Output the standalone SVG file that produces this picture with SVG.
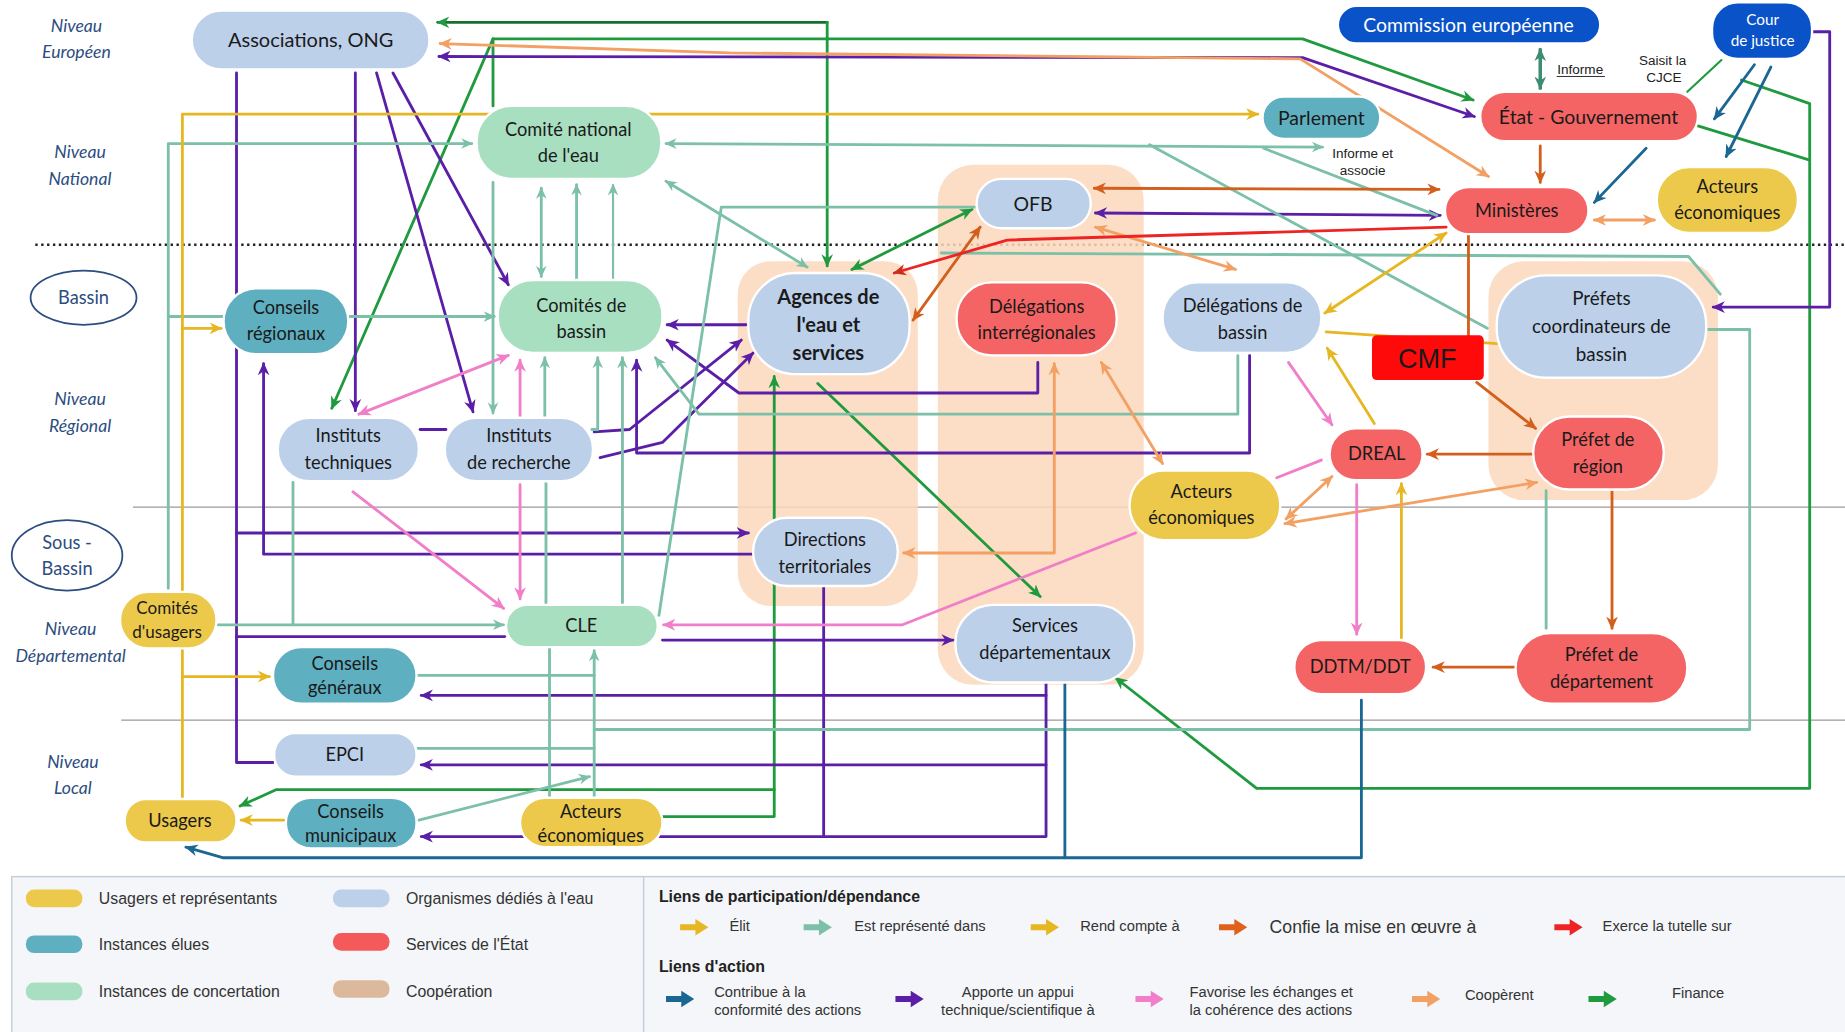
<svg xmlns="http://www.w3.org/2000/svg" width="1845" height="1032" viewBox="0 0 1845 1032">
<style>
.bg{fill:#ffffff}
.c{fill:none;stroke-width:2.4;stroke-linejoin:round;stroke-linecap:round}
.thin{stroke-width:1.8}
.pur{stroke:#5a1fa6}.grn{stroke:#1f9a3e}.dgr{stroke:#14702c}.tea{stroke:#7cc0a8}.yel{stroke:#e6b722}.ora{stroke:#f2a063}.dor{stroke:#d35f1d}.red{stroke:#ee2424}.blu{stroke:#1b6794}.pnk{stroke:#f07ec8}.cte{stroke:#3d8c74}
.n rect{stroke:#ffffff;stroke-width:2}
.lb{fill:#bcd0ea}.lg{fill:#a9dfc1}.lt{fill:#5eafc0}.ly{fill:#ecc94b}.lr{fill:#f46464}.ld{fill:#0a52c8}
.coop{fill:#fcd8bc;opacity:0.85}
text{font-family:Lato,"Open Sans","Noto Sans",sans-serif;fill:#1a1a1a;text-anchor:middle}
.t{font-size:15.5px}
.tb{font-size:17px;font-weight:bold}
.tw{fill:#ffffff}
.lvl{font-family:Lato,"Open Sans",sans-serif;font-style:italic;font-size:15px;fill:#2d4d80}
.sm{font-family:"Liberation Sans",Arial,sans-serif;font-size:11.5px;fill:#222}
.lg1{font-family:"Liberation Sans",Arial,sans-serif;font-size:13.5px;fill:#333;text-anchor:start}
.lgb{font-family:"Liberation Sans",Arial,sans-serif;font-size:13.5px;font-weight:bold;fill:#222;text-anchor:start}
.lgs{font-family:"Liberation Sans",Arial,sans-serif;font-size:12.5px;fill:#333;text-anchor:start}
.lgc{font-family:"Liberation Sans",Arial,sans-serif;font-size:12.5px;fill:#333;text-anchor:middle}
</style>
<defs>
<marker id="a-pur" viewBox="0 0 10 10" refX="9" refY="5" markerWidth="11" markerHeight="11" markerUnits="userSpaceOnUse" orient="auto-start-reverse"><path d="M0,0.5 L10,5 L0,9.5 L3,5 z" fill="#5a1fa6"/></marker>
<marker id="a-grn" viewBox="0 0 10 10" refX="9" refY="5" markerWidth="11" markerHeight="11" markerUnits="userSpaceOnUse" orient="auto-start-reverse"><path d="M0,0.5 L10,5 L0,9.5 L3,5 z" fill="#1f9a3e"/></marker>
<marker id="a-tea" viewBox="0 0 10 10" refX="9" refY="5" markerWidth="10" markerHeight="10" markerUnits="userSpaceOnUse" orient="auto-start-reverse"><path d="M0,0.5 L10,5 L0,9.5 L3,5 z" fill="#7cc0a8"/></marker>
<marker id="a-yel" viewBox="0 0 10 10" refX="9" refY="5" markerWidth="11" markerHeight="11" markerUnits="userSpaceOnUse" orient="auto-start-reverse"><path d="M0,0.5 L10,5 L0,9.5 L3,5 z" fill="#e6b722"/></marker>
<marker id="a-ora" viewBox="0 0 10 10" refX="9" refY="5" markerWidth="11" markerHeight="11" markerUnits="userSpaceOnUse" orient="auto-start-reverse"><path d="M0,0.5 L10,5 L0,9.5 L3,5 z" fill="#f2a063"/></marker>
<marker id="a-dor" viewBox="0 0 10 10" refX="9" refY="5" markerWidth="11" markerHeight="11" markerUnits="userSpaceOnUse" orient="auto-start-reverse"><path d="M0,0.5 L10,5 L0,9.5 L3,5 z" fill="#d35f1d"/></marker>
<marker id="a-red" viewBox="0 0 10 10" refX="9" refY="5" markerWidth="11" markerHeight="11" markerUnits="userSpaceOnUse" orient="auto-start-reverse"><path d="M0,0.5 L10,5 L0,9.5 L3,5 z" fill="#c8301c"/></marker>
<marker id="a-blu" viewBox="0 0 10 10" refX="9" refY="5" markerWidth="11" markerHeight="11" markerUnits="userSpaceOnUse" orient="auto-start-reverse"><path d="M0,0.5 L10,5 L0,9.5 L3,5 z" fill="#1b6794"/></marker>
<marker id="a-pnk" viewBox="0 0 10 10" refX="9" refY="5" markerWidth="11" markerHeight="11" markerUnits="userSpaceOnUse" orient="auto-start-reverse"><path d="M0,0.5 L10,5 L0,9.5 L3,5 z" fill="#f07ec8"/></marker>
<marker id="a-cte" viewBox="0 0 10 10" refX="9" refY="5" markerWidth="11" markerHeight="11" markerUnits="userSpaceOnUse" orient="auto-start-reverse"><path d="M0,0.5 L10,5 L0,9.5 L3,5 z" fill="#3d8c74"/></marker>
<path id="la" d="M0,-2.5 H13 V-7 L24,0 L13,7 V2.5 H0 z"/>
</defs>
<rect class="bg" x="0" y="0" width="1845" height="1032"/>
<g transform="scale(1.176658)">

<g id="levels">
<text class="lvl" x="65" y="27">Niveau</text>
<text class="lvl" x="65" y="49">Européen</text>
<text class="lvl" x="68" y="134">Niveau</text>
<text class="lvl" x="68" y="157">National</text>
<ellipse cx="71" cy="253" rx="45" ry="23" fill="none" stroke="#2d4d80" stroke-width="1.5"/>
<text class="t" x="71" y="258" style="fill:#2d4d80">Bassin</text>
<text class="lvl" x="68" y="344">Niveau</text>
<text class="lvl" x="68" y="367">Régional</text>
<ellipse cx="57" cy="472" rx="47" ry="30" fill="none" stroke="#2d4d80" stroke-width="1.5"/>
<text class="t" x="57" y="467" style="fill:#2d4d80">Sous -</text>
<text class="t" x="57" y="489" style="fill:#2d4d80">Bassin</text>
<text class="lvl" x="60" y="540">Niveau</text>
<text class="lvl" x="60" y="563">Départemental</text>
<text class="lvl" x="62" y="653">Niveau</text>
<text class="lvl" x="62" y="675">Local</text>
<line x1="30" y1="208" x2="1568" y2="208" stroke="#222" stroke-width="2" stroke-dasharray="2 3"/>
<line x1="113" y1="431" x2="1568" y2="431" stroke="#9a9a9a" stroke-width="1.2"/>
<line x1="103" y1="612" x2="1568" y2="612" stroke="#9a9a9a" stroke-width="1.2"/>
</g>

<g id="cooperation">
<rect class="coop" x="627" y="222" width="153" height="293" rx="28"/>
<rect class="coop" x="797" y="140" width="175" height="442" rx="30"/>
<rect class="coop" x="1265" y="222" width="195" height="203" rx="30"/>
</g>

<g id="connectors">
<!-- green -->
<path class="c dgr" d="M703 19 L372 19" marker-end="url(#a-grn)"/>
<path class="c grn" d="M703 19 L703 226" marker-end="url(#a-grn)"/>
<path class="c grn" d="M419 90 L419 33 L1107 33 L1252 85" marker-end="url(#a-grn)"/>
<path class="c grn" d="M419 33 L282 347" marker-end="url(#a-grn)"/>
<path class="c grn" d="M826 178 L724 229" marker-start="url(#a-grn)" marker-end="url(#a-grn)"/>
<path class="c grn" d="M695 326 L884 507" marker-end="url(#a-grn)"/>
<path class="c grn" d="M563 694 L658 694 L658 320" marker-end="url(#a-grn)"/>
<path class="c grn" d="M658 671 L235 671 L204 685" marker-end="url(#a-grn)"/>
<path class="c grn" d="M1443 107 L1538 136"/>
<path class="c grn" d="M1480 68 L1538 88 L1538 670 L1068 670 L948 576" marker-end="url(#a-grn)"/>
<path class="c grn thin" d="M1463 51 L1434 78"/>
<!-- purple -->
<path class="c pur" d="M373 48 L1107 49 L1253 99" marker-start="url(#a-pur)" marker-end="url(#a-pur)"/>
<path class="c pur" d="M201 62 L201 648 L232 648"/>
<path class="c pur" d="M201 453 L636 453" marker-end="url(#a-pur)"/>
<path class="c pur" d="M201 541 L429 541"/>
<path class="c pur" d="M640 471 L224 471 L224 309" marker-end="url(#a-pur)"/>
<path class="c pur" d="M302 62 L302 349" marker-end="url(#a-pur)"/>
<path class="c pur" d="M320 62 L402 350" marker-end="url(#a-pur)"/>
<path class="c pur" d="M334 62 L432 242" marker-end="url(#a-pur)"/>
<path class="c pur" d="M505 367 L535 365 L630 289" marker-end="url(#a-pur)"/>
<path class="c pur" d="M510 389 L563 376 L640 300" marker-end="url(#a-pur)"/>
<path class="c pur" d="M634 276 L567 276" marker-end="url(#a-pur)"/>
<path class="c pur" d="M882 308 L882 334 L628 334 L567 289" marker-end="url(#a-pur)"/>
<path class="c pur" d="M1062 302 L1062 385 L541 385 L541 306" marker-end="url(#a-pur)"/>
<path class="c pur" d="M931 181 L1224 183" marker-start="url(#a-pur)" marker-end="url(#a-pur)"/>
<path class="c pur" d="M1540 27 L1555 27 L1555 261 L1456 261" marker-end="url(#a-pur)"/>
<path class="c pur" d="M563 544 L810 544" marker-end="url(#a-pur)"/>
<path class="c pur" d="M889 580 L889 711 L358 711" marker-end="url(#a-pur)"/>
<path class="c pur" d="M889 591 L358 591" marker-end="url(#a-pur)"/>
<path class="c pur" d="M889 650 L358 650" marker-end="url(#a-pur)"/>
<path class="c pur" d="M700 498 L700 711"/>
<path class="c pur" d="M357 365 L379 365"/>
<!-- teal -->
<path class="c tea" d="M143 500 L143 122 L401 122" marker-end="url(#a-tea)"/>
<path class="c tea" d="M143 269 L190 269"/>
<path class="c tea" d="M297 269 L420 269" marker-end="url(#a-tea)"/>
<path class="c tea" d="M185 531 L428 531" marker-end="url(#a-tea)"/>
<path class="c tea" d="M249 410 L249 531"/>
<path class="c tea" d="M460 160 L460 235" marker-start="url(#a-tea)" marker-end="url(#a-tea)"/>
<path class="c tea" d="M490 237 L490 157" marker-end="url(#a-tea)"/>
<path class="c tea thin" d="M521 237 L521 157" marker-end="url(#a-tea)"/>
<path class="c tea" d="M419 155 L419 351" marker-end="url(#a-tea)"/>
<path class="c tea" d="M463 355 L463 304" marker-end="url(#a-tea)"/>
<path class="c tea" d="M503 365 L508 365 L508 304" marker-end="url(#a-tea)"/>
<path class="c tea" d="M529 514 L529 304" marker-end="url(#a-tea)"/>
<path class="c tea" d="M1052 302 L1052 352 L594 352 L557 304" marker-end="url(#a-tea)"/>
<path class="c tea" d="M566 154 L686 227" marker-start="url(#a-tea)" marker-end="url(#a-tea)"/>
<path class="c tea" d="M566 122 L1124 125" marker-start="url(#a-tea)" marker-end="url(#a-tea)"/>
<path class="c tea" d="M977 123 L1264 279"/>
<path class="c tea" d="M1074 126 L1221 183"/>
<path class="c tea" d="M560 523 L613 176 L828 176"/>
<path class="c tea" d="M800 215 L1435 218 L1462 250"/>
<path class="c tea" d="M1452 280 L1487 280 L1487 620 L505 620"/>
<path class="c tea" d="M505 680 L505 553" marker-end="url(#a-tea)"/>
<path class="c tea" d="M467 678 L467 551"/>
<path class="c tea" d="M355 574 L505 574"/>
<path class="c tea" d="M355 636 L505 636"/>
<path class="c tea" d="M356 697 L501 660" marker-end="url(#a-tea)"/>
<path class="c tea" d="M1314 417 L1314 534"/>
<path class="c tea" d="M464 410 L464 514"/>
<!-- yellow -->
<path class="c yel" d="M155 503 L155 97 L1069 97" marker-end="url(#a-yel)"/>
<path class="c yel" d="M155 279 L188 279" marker-end="url(#a-yel)"/>
<path class="c yel" d="M155 678 L155 551"/>
<path class="c yel" d="M155 575 L229 575" marker-end="url(#a-yel)"/>
<path class="c yel" d="M241 697 L205 697" marker-end="url(#a-yel)"/>
<path class="c yel" d="M1229 198 L1126 266" marker-start="url(#a-yel)" marker-end="url(#a-yel)"/>
<path class="c yel" d="M1127 282 L1272 292"/>
<path class="c yel" d="M1168 360 L1128 296" marker-end="url(#a-yel)"/>
<path class="c yel" d="M1191 542 L1191 411" marker-end="url(#a-yel)"/>
<!-- orange (cooperate) -->
<path class="c ora" d="M374 37 L620 45 L1105 50 L1265 150" marker-start="url(#a-ora)" marker-end="url(#a-ora)"/>
<path class="c dor" d="M776 272 L833 193" marker-start="url(#a-dor)" marker-end="url(#a-dor)"/>
<path class="c ora" d="M931 193 L1050 229" marker-start="url(#a-ora)" marker-end="url(#a-ora)"/>
<path class="c ora" d="M936 308 L988 394" marker-start="url(#a-ora)" marker-end="url(#a-ora)"/>
<path class="c ora" d="M896 309 L896 470 L768 470" marker-start="url(#a-ora)" marker-end="url(#a-ora)"/>
<path class="c ora" d="M1355 187 L1406 187" marker-start="url(#a-ora)" marker-end="url(#a-ora)"/>
<path class="c ora" d="M1093 441 L1132 405" marker-start="url(#a-ora)" marker-end="url(#a-ora)"/>
<path class="c ora" d="M1092 445 L1306 410" marker-start="url(#a-ora)" marker-end="url(#a-ora)"/>
<!-- dark orange (confie) -->
<path class="c dor" d="M930 160 L1223 161" marker-start="url(#a-dor)" marker-end="url(#a-dor)"/>
<path class="c dor" d="M1309 124 L1309 155" marker-end="url(#a-dor)"/>
<path class="c dor" d="M1248 200 L1248 285"/>
<path class="c dor" d="M1255 325 L1305 364" marker-end="url(#a-dor)"/>
<path class="c dor" d="M1302 386 L1213 386" marker-end="url(#a-dor)"/>
<path class="c dor" d="M1370 418 L1370 534" marker-end="url(#a-dor)"/>
<path class="c dor" d="M1287 567 L1218 567" marker-end="url(#a-dor)"/>
<!-- red (tutelle) -->
<path class="c red" d="M1229 193 L856 204 L760 232" marker-end="url(#a-red)"/>
<!-- blue (contribue) -->
<path class="c blu" d="M1157 595 L1157 729 L190 729 L158 720" marker-end="url(#a-blu)"/>
<path class="c blu" d="M905 580 L905 729"/>
<path class="c blu" d="M1491 55 L1457 101" marker-end="url(#a-blu)"/>
<path class="c blu" d="M1505 57 L1467 133" marker-end="url(#a-blu)"/>
<path class="c blu" d="M1399 126 L1355 172" marker-end="url(#a-blu)"/>
<!-- pink -->
<path class="c pnk" d="M305 352 L432 302" marker-start="url(#a-pnk)" marker-end="url(#a-pnk)"/>
<path class="c pnk" d="M442 354 L442 306" marker-end="url(#a-pnk)"/>
<path class="c pnk" d="M300 418 L428 517" marker-end="url(#a-pnk)"/>
<path class="c pnk" d="M442 412 L442 509" marker-end="url(#a-pnk)"/>
<path class="c pnk" d="M965 453 L767 531 L564 531" marker-end="url(#a-pnk)"/>
<path class="c pnk" d="M1095 308 L1132 361" marker-end="url(#a-pnk)"/>
<path class="c pnk" d="M1153 412 L1153 539" marker-end="url(#a-pnk)"/>
<path class="c pnk" d="M1085 406 L1123 391"/>
<!-- commission -->
<path class="c cte" style="stroke-width:3" d="M1309 42 L1309 75" marker-start="url(#a-cte)" marker-end="url(#a-cte)"/>
<text class="sm" x="1343" y="63">Informe</text>
<line x1="1323" y1="65" x2="1364" y2="65" stroke="#222" stroke-width="0.8"/>
<text class="sm" x="1158" y="134">Informe et</text>
<text class="sm" x="1158" y="149">associe</text>
<text class="sm" x="1413" y="55">Saisit la</text>
<text class="sm" x="1414" y="70">CJCE</text>
</g>

<g id="n-assoc" class="n"><rect class="lb" x="163" y="9" width="202" height="50" rx="25"/><text class="t" style="font-size:17px" x="264" y="40">Associations, ONG</text></g>
<g id="n-commission" class="n"><rect class="ld" x="1137" y="5" width="223" height="32" rx="16"/><text class="t tw" style="font-size:16.5px" x="1248" y="27">Commission européenne</text></g>
<g id="n-cour" class="n"><rect class="ld" x="1455" y="2" width="85" height="48" rx="22"/><text class="tw" style="font-size:13px" x="1498" y="21">Cour</text><text class="tw" style="font-size:13px" x="1498" y="39">de justice</text></g>
<g id="n-cne" class="n"><rect class="lg" x="405" y="90" width="157" height="62" rx="30"/><text class="t" x="483" y="116">Comité national</text><text class="t" x="483" y="138">de l'eau</text></g>
<g id="n-parlement" class="n"><rect class="lt" x="1073" y="82" width="100" height="36" rx="18"/><text class="t" style="font-size:16.5px" x="1123" y="106">Parlement</text></g>
<g id="n-etat" class="n"><rect class="lr" x="1258" y="78" width="185" height="42" rx="21"/><text class="t" style="font-size:16.5px" x="1350" y="105">État - Gouvernement</text></g>
<g id="n-ministeres" class="n"><rect class="lr" x="1228" y="159" width="122" height="40" rx="20"/><text class="t" x="1289" y="184">Ministères</text></g>
<g id="n-acteco1" class="n"><rect class="ly" x="1408" y="142" width="120" height="56" rx="28"/><text class="t" x="1468" y="164">Acteurs</text><text class="t" x="1468" y="186">économiques</text></g>
<g id="n-ofb" class="n"><rect class="lb" x="830" y="152" width="97" height="42" rx="21"/><text class="t" style="font-size:16.5px" x="878" y="179">OFB</text></g>
<g id="n-agences" class="n"><rect class="lb" x="636" y="232" width="137" height="86" rx="40"/><text class="tb" x="704" y="258">Agences de</text><text class="tb" x="704" y="282">l'eau et</text><text class="tb" x="704" y="306">services</text></g>
<g id="n-delinter" class="n"><rect class="lr" x="813" y="240" width="136" height="62" rx="30"/><text class="t" x="881" y="266">Délégations</text><text class="t" x="881" y="288">interrégionales</text></g>
<g id="n-delbassin" class="n"><rect class="lb" x="988" y="240" width="135" height="60" rx="30"/><text class="t" x="1056" y="265">Délégations de</text><text class="t" x="1056" y="288">bassin</text></g>
<g id="n-cmf"><rect x="1166" y="285" width="95" height="38" rx="4" fill="#ff0a0a"/><text style="font-family:'Liberation Sans',Arial,sans-serif;font-size:23px" x="1213" y="313">CMF</text></g>
<g id="n-prefcoord" class="n"><rect class="lb" x="1272" y="234" width="178" height="87" rx="42"/><text class="t" style="font-size:16px" x="1361" y="259">Préfets</text><text class="t" style="font-size:16px" x="1361" y="283">coordinateurs de</text><text class="t" style="font-size:16px" x="1361" y="307">bassin</text></g>
<g id="n-combassin" class="n"><rect class="lg" x="423" y="238" width="140" height="62" rx="30"/><text class="t" x="494" y="265">Comités de</text><text class="t" x="494" y="287">bassin</text></g>
<g id="n-consreg" class="n"><rect class="lt" x="190" y="245" width="106" height="56" rx="28"/><text class="t" x="243" y="267">Conseils</text><text class="t" x="243" y="289">régionaux</text></g>
<g id="n-insttech" class="n"><rect class="lb" x="236" y="355" width="120" height="54" rx="27"/><text class="t" x="296" y="376">Instituts</text><text class="t" x="296" y="399">techniques</text></g>
<g id="n-instrech" class="n"><rect class="lb" x="378" y="355" width="126" height="54" rx="27"/><text class="t" x="441" y="376">Instituts</text><text class="t" x="441" y="399">de recherche</text></g>
<g id="n-dreal" class="n"><rect class="lr" x="1130" y="364" width="79" height="44" rx="22"/><text class="t" x="1170" y="391">DREAL</text></g>
<g id="n-prefreg" class="n"><rect class="lr" x="1303" y="354" width="111" height="62" rx="31"/><text class="t" x="1358" y="379">Préfet de</text><text class="t" x="1358" y="402">région</text></g>
<g id="n-acteco2" class="n"><rect class="ly" x="960" y="400" width="128" height="59" rx="29"/><text class="t" x="1021" y="423">Acteurs</text><text class="t" x="1021" y="445">économiques</text></g>
<g id="n-dirterr" class="n"><rect class="lb" x="640" y="440" width="123" height="58" rx="29"/><text class="t" x="701" y="464">Directions</text><text class="t" x="701" y="487">territoriales</text></g>
<g id="n-comusagers" class="n"><rect class="ly" x="102" y="503" width="82" height="48" rx="24"/><text class="t" style="font-size:14.5px" x="142" y="522">Comités</text><text class="t" style="font-size:14.5px" x="142" y="542">d'usagers</text></g>
<g id="n-cle" class="n"><rect class="lg" x="430" y="514" width="129" height="36" rx="18"/><text class="t" x="494" y="537">CLE</text></g>
<g id="n-servdep" class="n"><rect class="lb" x="812" y="514" width="152" height="66" rx="32"/><text class="t" x="888" y="537">Services</text><text class="t" x="888" y="560">départementaux</text></g>
<g id="n-ddtm" class="n"><rect class="lr" x="1100" y="544" width="112" height="46" rx="23"/><text class="t" x="1156" y="572">DDTM/DDT</text></g>
<g id="n-prefdep" class="n"><rect class="lr" x="1288" y="538" width="146" height="60" rx="30"/><text class="t" x="1361" y="562">Préfet de</text><text class="t" x="1361" y="585">département</text></g>
<g id="n-consgen" class="n"><rect class="lt" x="232" y="550" width="122" height="48" rx="24"/><text class="t" x="293" y="569">Conseils</text><text class="t" x="293" y="590">généraux</text></g>
<g id="n-epci" class="n"><rect class="lb" x="233" y="623" width="121" height="37" rx="18"/><text class="t" x="293" y="647">EPCI</text></g>
<g id="n-usagers" class="n"><rect class="ly" x="106" y="679" width="95" height="37" rx="18"/><text class="t" x="153" y="703">Usagers</text></g>
<g id="n-consmun" class="n"><rect class="lt" x="243" y="678" width="111" height="43" rx="21"/><text class="t" x="298" y="695">Conseils</text><text class="t" x="298" y="716">municipaux</text></g>
<g id="n-acteco3" class="n"><rect class="ly" x="442" y="678" width="121" height="42" rx="21"/><text class="t" x="502" y="695">Acteurs</text><text class="t" x="502" y="716">économiques</text></g>

<g id="legend">
<rect x="10" y="745" width="1570" height="140" fill="#f4f6f9" stroke="#c5cdd8" stroke-width="1.2"/>
<line x1="547" y1="745" x2="547" y2="877" stroke="#c5cdd8" stroke-width="1.2"/>
<rect x="22" y="756" width="48" height="15" rx="7" fill="#ecc94b"/>
<text class="lg1" x="84" y="768">Usagers et représentants</text>
<rect x="22" y="795" width="48" height="15" rx="7" fill="#5eafc0"/>
<text class="lg1" x="84" y="807">Instances élues</text>
<rect x="22" y="835" width="48" height="15" rx="7" fill="#a9dfc1"/>
<text class="lg1" x="84" y="847">Instances de concertation</text>
<rect x="283" y="756" width="48" height="15" rx="7" fill="#bcd0ea"/>
<text class="lg1" x="345" y="768">Organismes dédiés à l'eau</text>
<rect x="283" y="793" width="48" height="15" rx="7" fill="#f45a5a"/>
<text class="lg1" x="345" y="807">Services de l'État</text>
<rect x="283" y="833" width="48" height="15" rx="7" fill="#dcb89c"/>
<text class="lg1" x="345" y="847">Coopération</text>

<text class="lgb" x="560" y="767">Liens de participation/dépendance</text>
<use href="#la" x="578" y="788" fill="#e6b722"/>
<text class="lgs" x="620" y="791">Élit</text>
<use href="#la" x="683" y="788" fill="#7cc0a8"/>
<text class="lgs" x="726" y="791">Est représenté dans</text>
<use href="#la" x="876" y="788" fill="#e6b722"/>
<text class="lgs" x="918" y="791">Rend compte à</text>
<use href="#la" x="1036" y="788" fill="#e0601c"/>
<text class="lgs" style="font-size:15px" x="1079" y="793">Confie la mise en œuvre à</text>
<use href="#la" x="1321" y="788" fill="#ee2424"/>
<text class="lgs" x="1362" y="791">Exerce la tutelle sur</text>

<text class="lgb" x="560" y="826">Liens d'action</text>
<use href="#la" x="566" y="849" fill="#1b6794"/>
<text class="lgs" x="607" y="847">Contribue à la</text>
<text class="lgs" x="607" y="863">conformité des actions</text>
<use href="#la" x="761" y="849" fill="#5a1fa6"/>
<text class="lgc" x="865" y="847">Apporte un appui</text>
<text class="lgc" x="865" y="863">technique/scientifique à</text>
<use href="#la" x="965" y="849" fill="#f07ec8"/>
<text class="lgs" x="1011" y="847">Favorise les échanges et</text>
<text class="lgs" x="1011" y="863">la cohérence des actions</text>
<use href="#la" x="1200" y="849" fill="#f2a063"/>
<text class="lgs" x="1245" y="850">Coopèrent</text>
<use href="#la" x="1350" y="849" fill="#1f9a3e"/>
<text class="lgs" x="1421" y="848">Finance</text>
</g>
</g>
</svg>
